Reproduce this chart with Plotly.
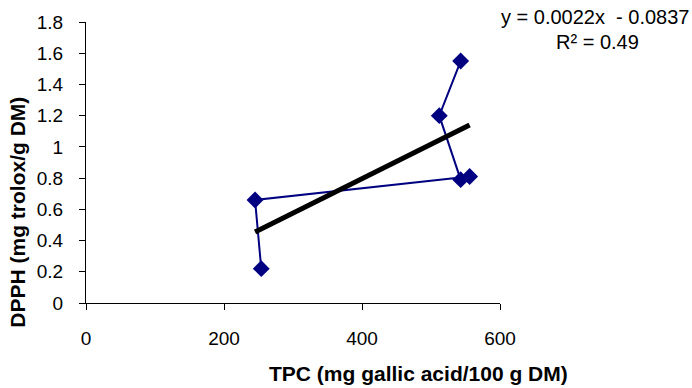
import plotly.graph_objects as go

# TPC vs DPPH measurements (in plotting order)
tpc = [254, 245, 556, 543, 512, 543]
dpph = [0.22, 0.66, 0.81, 0.79, 1.20, 1.55]

# Linear trend line coefficients
slope = 0.0022
intercept = -0.0837
r2 = 0.49

x_ticks = [0, 200, 400, 600]
y_ticks = [0, 0.2, 0.4, 0.6, 0.8, 1.0, 1.2, 1.4, 1.6, 1.8]
y_tick_text = ["0", "0.2", "0.4", "0.6", "0.8", "1", "1.2", "1.4", "1.6", "1.8"]

trend_x = [min(tpc), max(tpc)]
trend_y = [slope * v + intercept for v in trend_x]

font = "Liberation Sans, Arial, sans-serif"
navy = "#000080"

# plot area in pixels
L, R, T, B = 86, 500, 20, 303
W, H = 692, 388
pw, ph = R - L, B - T


def px(x):
    return (x - L) / pw


def py(y):
    return (B - y) / ph


fig = go.Figure()
fig.add_trace(go.Scatter(
    x=tpc, y=dpph, mode="lines+markers",
    line=dict(color=navy, width=2),
    marker=dict(symbol="diamond", size=13, color=navy),
    showlegend=False,
))
fig.add_trace(go.Scatter(
    x=trend_x, y=trend_y, mode="lines",
    line=dict(color="black", width=5),
    showlegend=False,
))

fig.update_layout(
    width=W, height=H,
    margin=dict(l=L, r=W - R, t=T, b=H - B),
    paper_bgcolor="white", plot_bgcolor="white",
    font=dict(family=font, size=19, color="black"),
    xaxis=dict(
        range=[0, 600], tickvals=x_ticks, showgrid=False, zeroline=False,
        showline=True, linecolor="black", linewidth=1,
        ticks="outside", ticklen=6, tickcolor="black",
        ticklabelstandoff=12,
    ),
    yaxis=dict(
        range=[0, 1.8], tickvals=y_ticks, ticktext=y_tick_text,
        showgrid=False, zeroline=False,
        showline=True, linecolor="black", linewidth=1,
        ticks="outside", ticklen=6, tickcolor="black",
        ticklabelstandoff=12,
    ),
    annotations=[
        dict(text="<b>TPC (mg gallic acid/100 g DM)</b>", xref="paper", yref="paper",
             x=px(418), y=py(374), xanchor="center", yanchor="middle",
             showarrow=False, font=dict(size=21)),
        dict(text="<b>DPPH (mg trolox/g DM)</b>", xref="paper", yref="paper",
             x=px(18), y=py(212), xanchor="center", yanchor="middle",
             textangle=-90, showarrow=False, font=dict(size=21)),
        dict(text=f"y = {slope}x&nbsp; - {abs(intercept)}", xref="paper", yref="paper",
             x=px(691), y=py(15), xanchor="right", yanchor="middle",
             showarrow=False, font=dict(size=20)),
        dict(text=f"R² = {r2}", xref="paper", yref="paper",
             x=px(597), y=py(40), xanchor="center", yanchor="middle",
             showarrow=False, font=dict(size=20)),
    ],
)

fig.write_html("out.html")
